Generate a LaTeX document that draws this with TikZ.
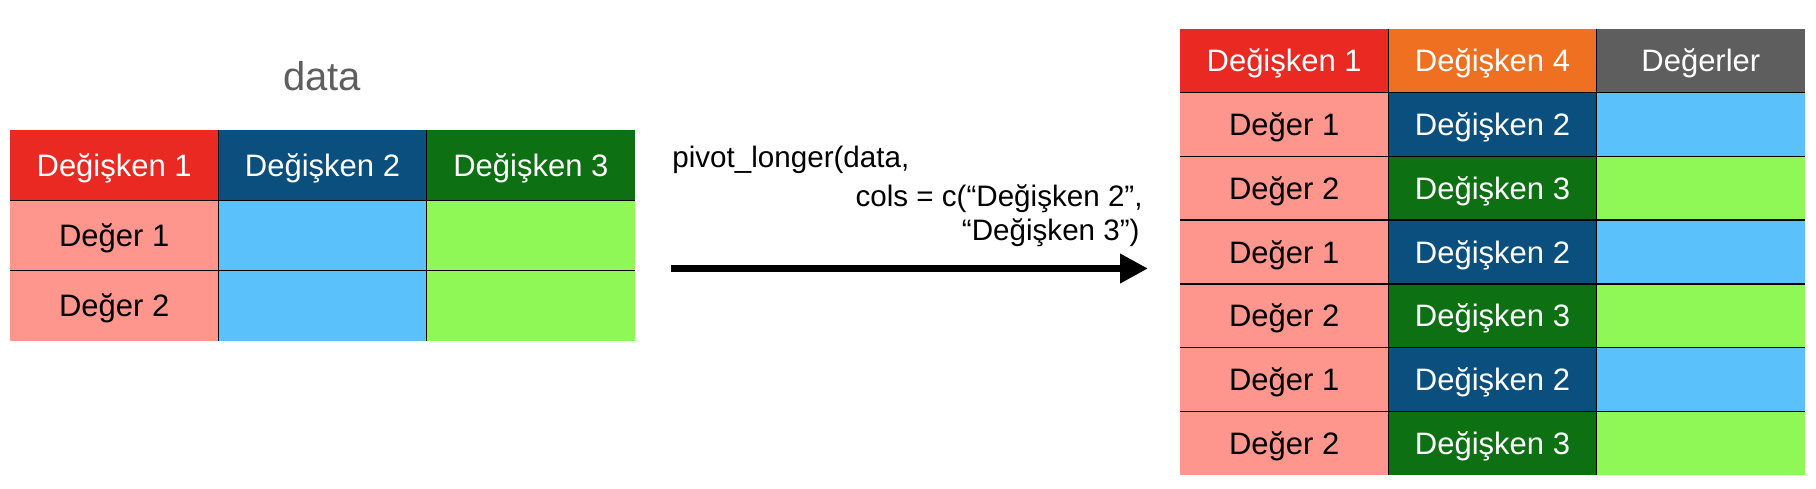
\documentclass[tikz,border=0pt]{standalone}
\usepackage{fontspec}
\setmainfont{Liberation Sans}
\usetikzlibrary{arrows.meta}
\definecolor{cRed}{HTML}{EA2A22}
\definecolor{cBlue}{HTML}{0A4F7E}
\definecolor{cGreen}{HTML}{0D7013}
\definecolor{cOrange}{HTML}{EF7020}
\definecolor{cGray}{HTML}{5E5E5E}
\definecolor{cPink}{HTML}{FE968D}
\definecolor{cLBlue}{HTML}{5AC1FB}
\definecolor{cLGreen}{HTML}{8FF756}
\tikzset{
  cellbase/.style={inner sep=0pt, outer sep=0pt, minimum width=104.17pt,
    font=\fontsize{15.5}{18}\selectfont, text height=11.1pt, text depth=0pt},
  lcell/.style={cellbase, minimum height=35.17pt},
  rcell/.style={cellbase, minimum height=31.86pt},
  hdr/.style={text=white},
  val/.style={text=black},
  grid/.style={line width=0.7pt, black},
  codetext/.style={inner sep=0pt, font=\fontsize{14.8}{17}\selectfont},
  bigarrow/.style={line width=3.5pt, -{Triangle[length=14pt,width=14pt]}}
}
\begin{document}
\begin{tikzpicture}[x=0.5pt,y=-0.5pt]
\useasboundingbox (0,0) rectangle (1816,488);
% title
\node[inner sep=0pt, anchor=base, text=cGray, font=\fontsize{20}{24}\selectfont] (title) at (322,90) {data};
% left table
\node[lcell, hdr, fill=cRed]   (L11) at (114.17,165.17) {Değişken 1};
\node[lcell, hdr, fill=cBlue]  (L12) at (322.5,165.17) {Değişken 2};
\node[lcell, hdr, fill=cGreen] (L13) at (530.83,165.17) {Değişken 3};
\node[lcell, val, fill=cPink]  (L21) at (114.17,235.5) {Değer 1};
\node[lcell, fill=cLBlue]      (L22) at (322.5,235.5) {};
\node[lcell, fill=cLGreen]     (L23) at (530.83,235.5) {};
\node[lcell, val, fill=cPink]  (L31) at (114.17,305.83) {Değer 2};
\node[lcell, fill=cLBlue]      (L32) at (322.5,305.83) {};
\node[lcell, fill=cLGreen]     (L33) at (530.83,305.83) {};
\draw[grid] (L11.north east) -- (L31.south east);
\draw[grid] (L12.north east) -- (L32.south east);
\draw[grid] (L11.south west) -- (L13.south east);
\draw[grid] (L21.south west) -- (L23.south east);
% code text
\node[codetext, anchor=base west] (c1) at (672,167) {pivot\_longer(data,};
\node[codetext, anchor=base east] (c2) at (1143,206) {cols = c(“Değişken 2”,};
\node[codetext, anchor=base east] (c3) at (1140,240) {“Değişken 3”)};
% arrow
\coordinate (aS) at (671,268.5);
\coordinate (aE) at (1148,268.5);
\draw[bigarrow] (aS) -- (aE);
% right table
\node[rcell, hdr, fill=cRed]    (R11) at (1284.17,60.86) {Değişken 1};
\node[rcell, hdr, fill=cOrange] (R12) at (1492.5,60.86) {Değişken 4};
\node[rcell, hdr, fill=cGray]   (R13) at (1700.83,60.86) {Değerler};
\node[rcell, val, fill=cPink]   (R21) at (1284.17,124.57) {Değer 1};
\node[rcell, hdr, fill=cBlue]   (R22) at (1492.5,124.57) {Değişken 2};
\node[rcell, fill=cLBlue]       (R23) at (1700.83,124.57) {};
\node[rcell, val, fill=cPink]   (R31) at (1284.17,188.29) {Değer 2};
\node[rcell, hdr, fill=cGreen]  (R32) at (1492.5,188.29) {Değişken 3};
\node[rcell, fill=cLGreen]      (R33) at (1700.83,188.29) {};
\node[rcell, val, fill=cPink]   (R41) at (1284.17,252) {Değer 1};
\node[rcell, hdr, fill=cBlue]   (R42) at (1492.5,252) {Değişken 2};
\node[rcell, fill=cLBlue]       (R43) at (1700.83,252) {};
\node[rcell, val, fill=cPink]   (R51) at (1284.17,315.71) {Değer 2};
\node[rcell, hdr, fill=cGreen]  (R52) at (1492.5,315.71) {Değişken 3};
\node[rcell, fill=cLGreen]      (R53) at (1700.83,315.71) {};
\node[rcell, val, fill=cPink]   (R61) at (1284.17,379.43) {Değer 1};
\node[rcell, hdr, fill=cBlue]   (R62) at (1492.5,379.43) {Değişken 2};
\node[rcell, fill=cLBlue]       (R63) at (1700.83,379.43) {};
\node[rcell, val, fill=cPink]   (R71) at (1284.17,443.14) {Değer 2};
\node[rcell, hdr, fill=cGreen]  (R72) at (1492.5,443.14) {Değişken 3};
\node[rcell, fill=cLGreen]      (R73) at (1700.83,443.14) {};
\draw[grid] (R11.north east) -- (R71.south east);
\draw[grid] (R12.north east) -- (R72.south east);
\foreach \r in {1,...,6}{
  \draw[grid] (R\r1.south west) -- (R\r3.south east);
}
\end{tikzpicture}
\end{document}
